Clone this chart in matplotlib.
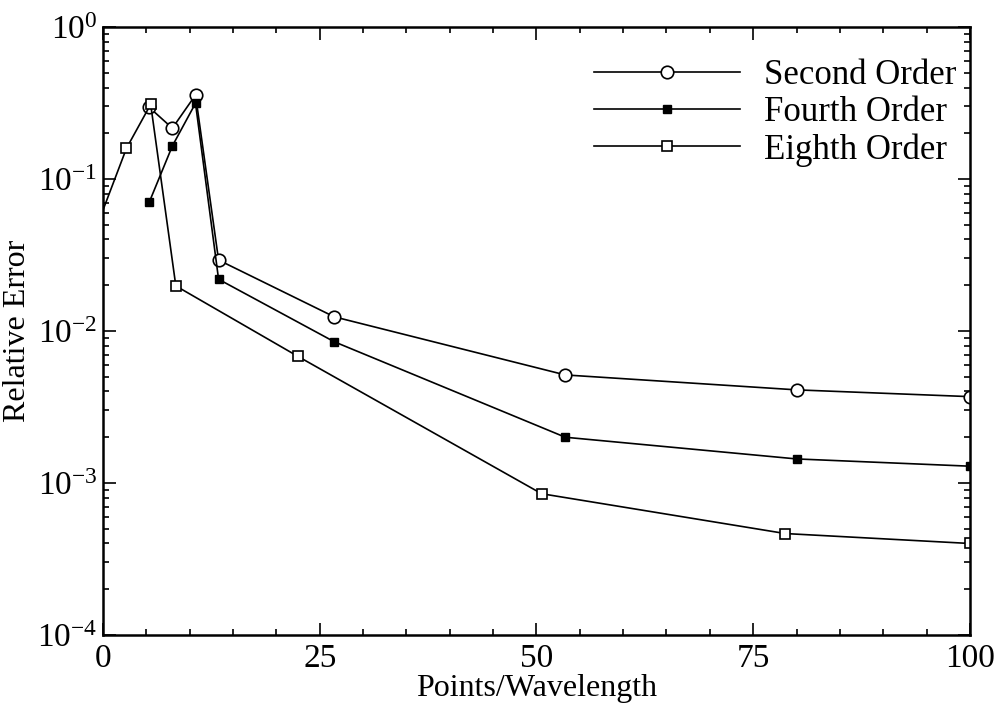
import numpy as np
import matplotlib
matplotlib.use("Agg")
import matplotlib.pyplot as plt
from matplotlib.ticker import MultipleLocator, LogLocator

plt.rcParams['font.family'] = ['Liberation Serif', 'DejaVu Serif']
plt.rcParams['mathtext.fontset'] = 'custom'
plt.rcParams['mathtext.rm'] = 'Liberation Serif'

# error vs. resolution for each scheme
x_second = [5.33, 8.0, 10.67, 13.33, 26.67, 53.33, 80.0, 100.0]
err_second = [0.296, 0.216, 0.357, 0.0293, 0.0124, 0.00514, 0.0041, 0.0037]

x_fourth = [5.33, 8.0, 10.67, 13.33, 26.67, 53.33, 80.0, 100.0]
err_fourth = [0.0703, 0.165, 0.315, 0.0219, 0.0085, 0.0020, 0.00144, 0.00129]

x_eighth = [0.0, 2.7, 5.5, 8.4, 22.5, 50.6, 78.7, 100.0]
err_eighth = [0.0625, 0.159, 0.31, 0.0198, 0.0068, 0.00085, 0.000465, 0.0004]

fig = plt.figure(figsize=(10.03, 7.11), dpi=100)
ax = fig.add_axes([0.1027, 0.1069, 0.8643, 0.8551])

lw = 1.2
ax.plot(x_second, err_second, '-o', color='black', lw=lw, ms=9,
        mfc='white', mec='black', mew=1.2, label='Second Order')
ax.plot(x_fourth, err_fourth, '-s', color='black', lw=lw, ms=6,
        mfc='black', mec='black', label='Fourth Order')
ax.plot(x_eighth, err_eighth, '-s', color='black', lw=lw, ms=7,
        mfc='white', mec='black', mew=1.2, markevery=slice(1, None),
        label='Eighth Order')

ax.set_yscale('log')
ax.set_xlim(0, 100)
ax.set_ylim(1e-4, 1)
ax.xaxis.set_major_locator(MultipleLocator(25))
ax.xaxis.set_minor_locator(MultipleLocator(5))
ax.yaxis.set_major_locator(LogLocator(base=10, numticks=10))
ax.yaxis.set_minor_locator(LogLocator(base=10, subs=np.arange(2, 10), numticks=10))

ax.tick_params(which='both', direction='in', top=True, right=True, width=1.2)
ax.tick_params(which='major', length=9, labelsize=24)
ax.tick_params(axis='x', which='major', pad=6)
ax.tick_params(axis='y', which='major', pad=4)
ax.tick_params(which='minor', length=4)
for s in ax.spines.values():
    s.set_linewidth(1.8)

ax.set_xlabel('Points/Wavelength', fontsize=23, labelpad=0)
ax.set_ylabel('Relative Error', fontsize=23, labelpad=4)

ax.legend(loc='upper right', bbox_to_anchor=(1.009, 0.982), frameon=False,
          fontsize=25, handlelength=4.2, handletextpad=0.7, labelspacing=0.12,
          borderaxespad=0.3, borderpad=0.3)

fig.savefig('out.png', dpi=100)
